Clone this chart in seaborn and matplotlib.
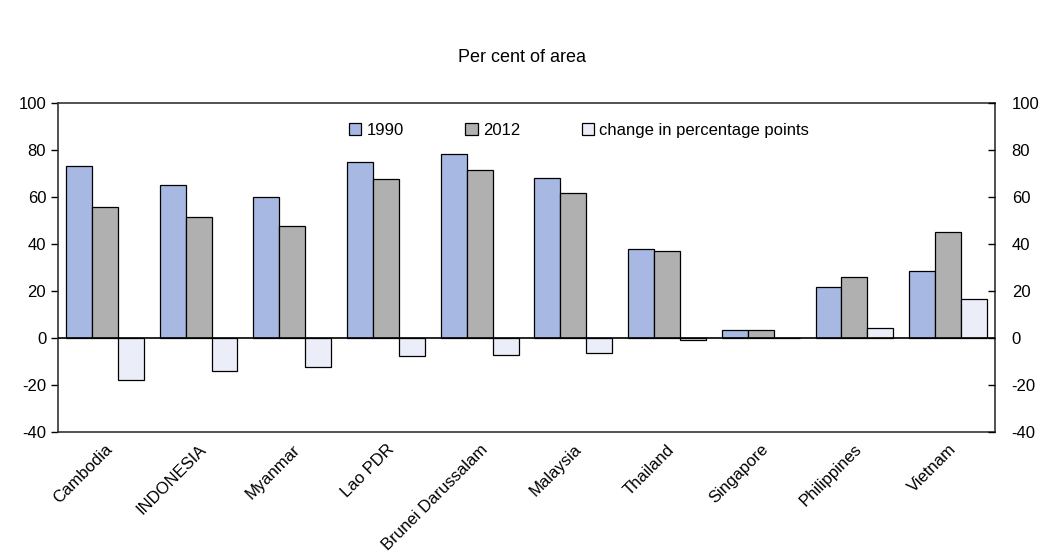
"""
Forest cover in South-East Asia, 1990 vs 2012 — grouped bar chart.
"""

import matplotlib
matplotlib.use("Agg")
import matplotlib.pyplot as plt
import numpy as np
import pandas as pd
import seaborn as sns

# ── data ────────────────────────────────────────────────────────────────────
countries = ["Cambodia", "INDONESIA", "Myanmar", "Lao PDR", "Brunei Darussalam",
             "Malaysia", "Thailand", "Singapore", "Philippines", "Vietnam"]
share_1990 = [73.3, 65.3, 60.0, 75.0, 78.4, 67.9, 38.0, 3.4, 21.9, 28.6]
share_2012 = [55.6, 51.3, 47.7, 67.5, 71.4, 61.5, 37.2, 3.3, 26.0, 45.3]
change_pp = [-17.7, -14.1, -12.3, -7.5, -7.1, -6.5, -0.8, -0.1, 4.1, 16.7]

series = ["1990", "2012", "change in percentage points"]
colors = ["#A7B9E3", "#B0B0B0", "#EBEEF8"]
yticks = [-40, -20, 0, 20, 40, 60, 80, 100]

df = pd.DataFrame({
    "country": countries * 3,
    "value": share_1990 + share_2012 + change_pp,
    "series": [s for s in series for _ in countries],
})

# ── style ───────────────────────────────────────────────────────────────────
sns.set_style("white")
plt.rcParams["font.family"] = ["Liberation Sans", "DejaVu Sans"]
plt.rcParams["axes.unicode_minus"] = False
plt.rcParams["text.color"] = "black"
plt.rcParams["xtick.color"] = "black"
plt.rcParams["ytick.color"] = "black"

fig = plt.figure(figsize=(10.43, 5.53), dpi=100)
ax = fig.add_axes([58 / 1043, 1 - 432 / 553, (995 - 58) / 1043, (432 - 103) / 553])

sns.barplot(data=df, x="country", y="value", hue="series", hue_order=series,
            palette=colors, width=0.83, edgecolor="black", linewidth=0.9,
            saturation=1, ax=ax)

ax.axhline(0, color="black", lw=1.2, zorder=5)
ax.set_ylim(-40, 100)
ax.set_yticks(yticks)
ax.set_xlim(-0.5, len(countries) - 0.5)
ax.set_xlabel("")
ax.set_ylabel("")
ax.tick_params(axis="y", direction="out", length=5, width=1, labelsize=12,
               left=True, labelcolor="black")
ax.tick_params(axis="x", length=0, labelsize=12, pad=7, labelcolor="black")
plt.setp(ax.get_xticklabels(), rotation=45, ha="right", rotation_mode="anchor")

for s in ax.spines.values():
    s.set_visible(True)
    s.set_color("#333333")
    s.set_linewidth(1.2)

# mirror axis on the right
ax2 = ax.twinx()
ax2.set_ylim(ax.get_ylim())
ax2.set_yticks(yticks)
ax2.tick_params(axis="y", direction="in", length=5, width=1, labelsize=12,
                right=True, pad=12, labelcolor="black")
for s in ax2.spines.values():
    s.set_visible(False)

ax.legend(loc="upper center", bbox_to_anchor=(0.556, 0.985), ncol=3, frameon=False,
          fontsize=12, handlelength=0.75, handleheight=0.75, handletextpad=0.3,
          columnspacing=3.7)

fig.text(0.5, 1 - 57 / 553, "Per cent of area", ha="center", va="center",
         fontsize=13, color="black")

fig.savefig("out.png", dpi=100)
plt.close(fig)
